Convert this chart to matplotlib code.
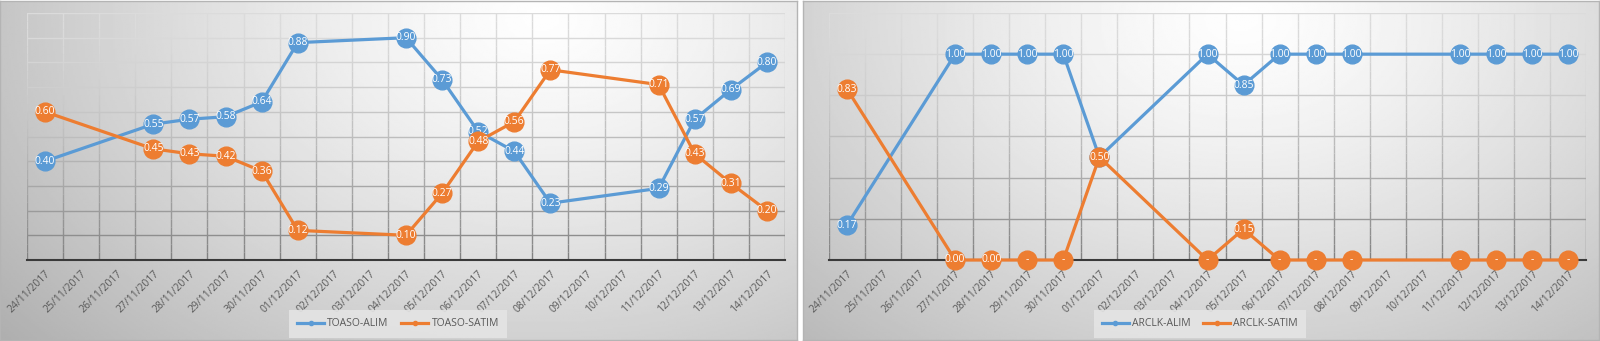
import numpy as np
import matplotlib
matplotlib.use("Agg")
import matplotlib.pyplot as plt
from matplotlib.collections import LineCollection
from matplotlib.lines import Line2D

plt.rcParams['font.family'] = ['Liberation Sans Narrow', 'Open Sans', 'DejaVu Sans']

# all calendar days on the date axis
all_days = ["24/11/2017", "25/11/2017", "26/11/2017", "27/11/2017", "28/11/2017",
            "29/11/2017", "30/11/2017", "01/12/2017", "02/12/2017", "03/12/2017",
            "04/12/2017", "05/12/2017", "06/12/2017", "07/12/2017", "08/12/2017",
            "09/12/2017", "10/12/2017", "11/12/2017", "12/12/2017", "13/12/2017",
            "14/12/2017"]

# trading days that have values
trade_days = ["24/11/2017", "27/11/2017", "28/11/2017", "29/11/2017", "30/11/2017",
              "01/12/2017", "04/12/2017", "05/12/2017", "06/12/2017", "07/12/2017",
              "08/12/2017", "11/12/2017", "12/12/2017", "13/12/2017", "14/12/2017"]

toaso_alim = [0.40, 0.55, 0.57, 0.58, 0.64, 0.88, 0.90, 0.73, 0.52, 0.44, 0.23, 0.29, 0.57, 0.69, 0.80]
toaso_satim = [0.60, 0.45, 0.43, 0.42, 0.36, 0.12, 0.10, 0.27, 0.48, 0.56, 0.77, 0.71, 0.43, 0.31, 0.20]

arclk_alim = [0.17, 1.00, 1.00, 1.00, 1.00, 0.50, 1.00, 0.85, 1.00, 1.00, 1.00, 1.00, 1.00, 1.00, 1.00]
arclk_satim = [0.83, 0.00, 0.00, 0.00, 0.00, 0.50, 0.00, 0.15, 0.00, 0.00, 0.00, 0.00, 0.00, 0.00, 0.00]
arclk_satim_labels = ["0.83", "0.00", "0.00", "-", "-", "0.50", "-", "0.15", "-", "-", "-", "-", "-", "-", "-"]

BLUE = "#5B9BD5"
ORANGE = "#ED7D31"
W, H = 1600, 341


def panel_bg(fig, rect, cx):
    bg = fig.add_axes(rect, zorder=0)
    ny, nx = 200, 400
    xx, yy = np.meshgrid(np.linspace(0, 1, nx), np.linspace(1, 0, ny))
    r = np.sqrt(((xx - cx) / 0.75) ** 2 + ((yy - 0.95) / 1.25) ** 2)
    v = 0.995 - 0.25 * np.clip(r, 0, 1.2) ** 1.3
    bg.imshow(v, cmap="gray", vmin=0, vmax=1, extent=[0, 1, 0, 1], aspect="auto")
    bg.set_xticks([])
    bg.set_yticks([])
    for s in bg.spines.values():
        s.set_color("#b4b4b4")
        s.set_linewidth(1.0)
    return bg


def grid_color(frac):
    g = 0.86 - 0.36 * (1 - frac) ** 1.6
    return (g, g, g)


def draw_chart(ax, alim, satim, alim_labels, satim_labels, ymax, ystep, names):
    n = len(all_days)
    ax.set_xlim(0, n)
    ax.set_ylim(0, ymax)
    ax.patch.set_alpha(0)

    # gridlines with darker shade towards the bottom
    segs, cols = [], []
    pieces = 30
    for gx in range(n + 1):
        ys = np.linspace(0, ymax, pieces + 1)
        for k in range(pieces):
            segs.append([(gx, ys[k]), (gx, ys[k + 1])])
            cols.append(grid_color((ys[k] + ys[k + 1]) / 2 / ymax))
    ax.add_collection(LineCollection(segs, colors=cols, linewidths=1.0, zorder=1))
    for gy in np.arange(ystep, ymax + 1e-9, ystep):
        ax.axhline(gy, color=grid_color(gy / ymax), lw=1.0, zorder=1)

    x = [all_days.index(d) + 0.5 for d in trade_days]
    z = 3
    for vals, labs, col in [(alim, alim_labels, BLUE), (satim, satim_labels, ORANGE)]:
        ax.plot(x, vals, color=col, lw=2.3, marker="o", markersize=13.5,
                markeredgecolor=col, zorder=z, solid_capstyle="round", clip_on=False)
        for xi, yi, lab in zip(x, vals, labs):
            ax.text(xi, yi, lab, color="white", fontsize=7.5, ha="center", va="center",
                    zorder=z + 1, clip_on=False)
        z += 2

    ax.set_xticks([i + 0.5 for i in range(n)])
    ax.set_xticklabels(all_days, rotation=45, ha="right", rotation_mode="anchor",
                       fontsize=7.5, color="#595959")
    ax.tick_params(axis="x", length=0, pad=6)
    ax.set_yticks([])
    for side in ["top", "right", "left"]:
        ax.spines[side].set_visible(False)
    ax.spines["bottom"].set_color("#3a3a3a")
    ax.spines["bottom"].set_linewidth(1.5)
    ax.spines["bottom"].set_zorder(2)

    handles = [Line2D([0], [0], color=BLUE, lw=2.3, marker="o", markersize=3),
               Line2D([0], [0], color=ORANGE, lw=2.3, marker="o", markersize=3)]
    return handles


fig = plt.figure(figsize=(W / 100, H / 100), dpi=100)
fig.patch.set_facecolor("white")

panel_bg(fig, [0 / W, 1 / H, 797 / W, 339 / H], 0.68)
panel_bg(fig, [803 / W, 1 / H, 796 / W, 339 / H], 0.55)

ax1 = fig.add_axes([27 / W, 1 - 260 / H, 758 / W, 247 / H], zorder=2)
ax2 = fig.add_axes([829 / W, 1 - 260 / H, 757 / W, 247 / H], zorder=2)

toaso_alim_labels = ["%.2f" % v for v in toaso_alim]
toaso_satim_labels = ["%.2f" % v for v in toaso_satim]
arclk_alim_labels = ["%.2f" % v for v in arclk_alim]

h1 = draw_chart(ax1, toaso_alim, toaso_satim, toaso_alim_labels, toaso_satim_labels, 1.0, 0.1,
                ["TOASO-ALIM", "TOASO-SATIM"])
h2 = draw_chart(ax2, arclk_alim, arclk_satim, arclk_alim_labels, arclk_satim_labels, 1.2, 0.2,
                ["ARCLK-ALIM", "ARCLK-SATIM"])

for h, names, cx in [(h1, ["TOASO-ALIM", "TOASO-SATIM"], 398), (h2, ["ARCLK-ALIM", "ARCLK-SATIM"], 1200)]:
    leg = fig.legend(h, names, loc="center", bbox_to_anchor=(cx / W, 1 - 324 / H), ncol=2,
                     frameon=True, fontsize=7.5, handlelength=2.6, columnspacing=1.2,
                     handletextpad=0.3, borderpad=0.5, labelcolor="#595959")
    leg.get_frame().set_facecolor("#e4e4e4")
    leg.get_frame().set_edgecolor("none")
    leg.get_frame().set_alpha(0.9)
    leg.get_frame().set_boxstyle("square", pad=0.3)
    leg.set_zorder(5)

fig.savefig("out.png", dpi=100, facecolor="white")
